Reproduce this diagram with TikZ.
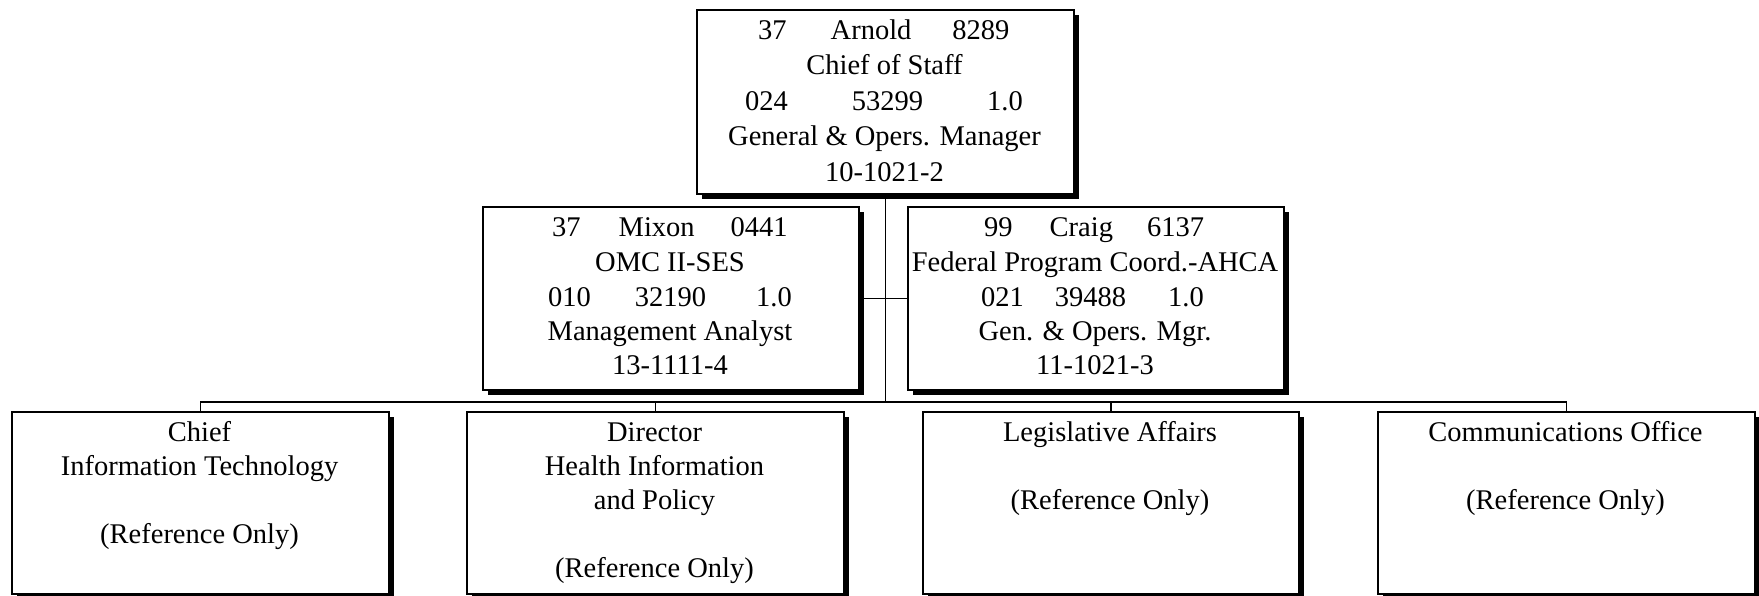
\documentclass[tikz,border=0pt]{standalone}
\usepackage{fontspec}
\setmainfont{Liberation Serif}
\usetikzlibrary{shadows}
\begin{document}
\begin{tikzpicture}[x=1pt,y=-1pt,
  unit/.style={draw, line width=2pt, fill=white, inner sep=0pt, anchor=north west,
    minimum width=377pt, minimum height=183pt,
    drop shadow={shadow xshift=5pt, shadow yshift=-5pt, fill=black, opacity=1}},
  link/.style={line width=1.8pt},
  txt/.style={inner sep=0pt, anchor=base, font=\fontsize{28.5}{34}\selectfont},
  txtl/.style={txt, anchor=base west}]
\useasboundingbox (0,0) rectangle (1759,595);

% position boxes
\node[unit, minimum height=184pt] (cos) at (696,8.5) {};
\node[unit, minimum width=376pt] (omc) at (482,206) {};
\node[unit, minimum width=376pt] (fpc) at (907,206) {};

% reference-only units
\node[unit, minimum height=182pt] (cit) at (11,410.5) {};
\node[unit, minimum height=182pt] (hip) at (466,410.5) {};
\node[unit, minimum height=182pt, minimum width=376pt] (leg) at (922,410.5) {};
\node[unit, minimum height=182pt] (com) at (1377,410.5) {};

% connectors
\coordinate (hub) at (885,402);
\draw[link] (cos.south) -- (cos.south |- hub);
\draw[link] (omc.east) -- (fpc.west);
\draw[link] (cit.north) |- (com.north |- hub) -- (com.north);
\draw[link] (hip.north) -- (hip.north |- hub);
\draw[link] (leg.north) -- (leg.north |- hub);

% Chief of Staff
\node[txtl] (cos1) at (758,39) {37\hspace{44pt}Arnold\hspace{41pt}8289};
\node[txt]  (cos2) at (884.5,74.5) {Chief of Staff};
\node[txtl] (cos3) at (745,110) {024\hspace{64pt}53299\hspace{64pt}1.0};
\node[txt]  (cos4) at (884.5,145.5) {General \& Opers. Manager};
\node[txt]  (cos5) at (884.5,181) {10-1021-2};

% OMC II-SES
\node[txtl] (omc1) at (552,236) {37\hspace{38pt}Mixon\hspace{36pt}0441};
\node[txt]  (omc2) at (670,271) {OMC II-SES};
\node[txtl] (omc3) at (548,306) {010\hspace{44pt}32190\hspace{50pt}1.0};
\node[txt]  (omc4) at (670,340.5) {Management Analyst};
\node[txt]  (omc5) at (670,374.5) {13-1111-4};

% Federal Program Coordinator
\node[txtl] (fpc1) at (984,236) {99\hspace{37pt}Craig\hspace{34pt}6137};
\node[txt]  (fpc2) at (1095,271) {Federal Program Coord.-AHCA};
\node[txtl] (fpc3) at (981,306) {021\hspace{31pt}39488\hspace{42pt}1.0};
\node[txt]  (fpc4) at (1095,340.5) {Gen. \& Opers. Mgr.};
\node[txt]  (fpc5) at (1095,374.5) {11-1021-3};

% reference-only unit labels
\node[txt] (cit1) at (199.5,441) {Chief};
\node[txt] (cit2) at (199.5,475) {Information Technology};
\node[txt] (cit3) at (199.5,543) {(Reference Only)};

\node[txt] (hip1) at (654.5,441) {Director};
\node[txt] (hip2) at (654.5,475) {Health Information};
\node[txt] (hip3) at (654.5,509) {and Policy};
\node[txt] (hip4) at (654.5,577) {(Reference Only)};

\node[txt] (leg1) at (1110,441) {Legislative Affairs};
\node[txt] (leg2) at (1110,509) {(Reference Only)};

\node[txt] (com1) at (1565.5,441) {Communications Office};
\node[txt] (com2) at (1565.5,509) {(Reference Only)};
\end{tikzpicture}
\end{document}
